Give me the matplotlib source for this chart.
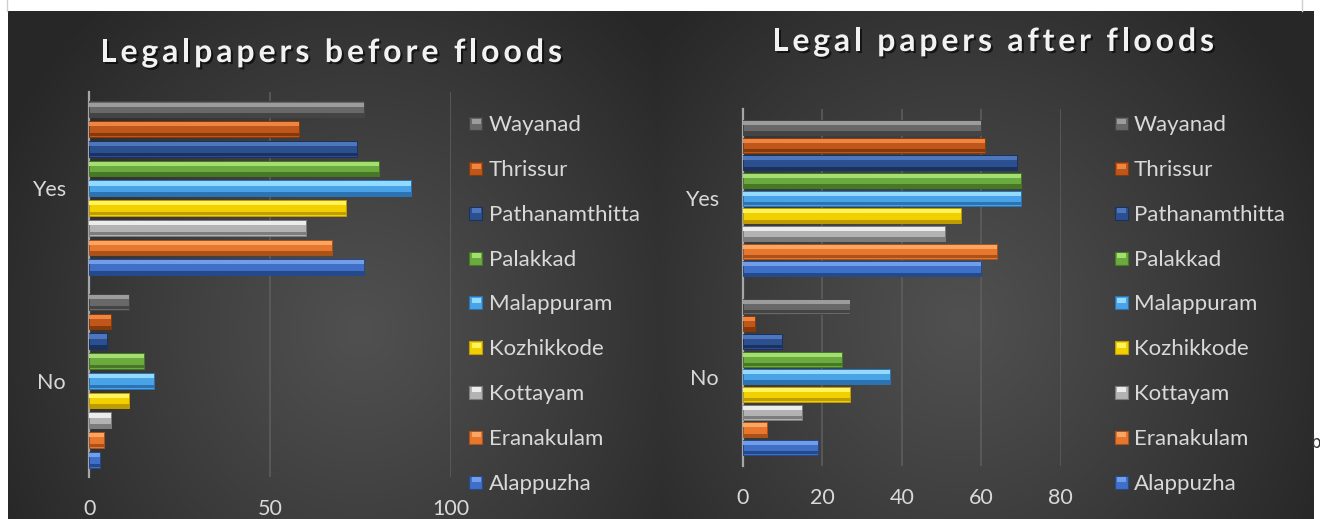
import numpy as np
import matplotlib
matplotlib.use("Agg")
import matplotlib.pyplot as plt
from matplotlib.patches import Rectangle
from matplotlib.lines import Line2D
import matplotlib.patheffects as pe

# ---------------- data ----------------
districts = ["Alappuzha", "Eranakulam", "Kottayam", "Kozhikkode", "Malappuram",
             "Palakkad", "Pathanamthitta", "Thrissur", "Wayanad"]
categories = ["No", "Yes"]
before_yes = [76, 67, 60, 71, 89, 80, 74, 58, 76]
before_no = [3, 4, 6, 11, 18, 15, 5, 6, 11]
after_yes = [60, 64, 51, 55, 70, 70, 69, 61, 60]
after_no = [19, 6, 15, 27, 37, 25, 10, 3, 27]
before_ticks = [0, 50, 100]
after_ticks = [0, 20, 40, 60, 80]
title_before = "Legalpapers before floods"
title_after = "Legal papers after floods"

# ---------------- style ----------------
base_colors = ["#3f6fc6", "#e8762d", "#b3b3b3", "#f2d000", "#4aa3e6",
               "#6aaa3e", "#2b4f8f", "#bf561a", "#686868"]
light_colors = ["#729de8", "#f9a563", "#ececec", "#fff45e", "#92dbff",
                "#a2de70", "#4d76bd", "#ef8543", "#9c9c9c"]
dark_colors = ["#244a8c", "#a9521a", "#7d7d7d", "#bf9c00", "#2c73b3",
               "#467826", "#1a3260", "#863a0c", "#444444"]

FONT = "Lato"
TXT = "#d9d9d9"
W, H = 1320, 519

fig = plt.figure(figsize=(W / 100, H / 100), dpi=100)
fig.patch.set_facecolor("white")


def fx(px):
    return px / W


def fy(py):
    return 1 - py / H


def rect(l, t, r, b):
    return [fx(l), fy(b), fx(r) - fx(l), fy(t) - fy(b)]


def gradient_panel(l, t, r, b, cx, cy):
    ax = fig.add_axes(rect(l, t, r, b), zorder=0)
    w, h = int(r - l), int(b - t)
    X, Y = np.meshgrid(np.arange(w), np.arange(h))
    d = np.sqrt(((X - (cx - l)) / (w * 0.62)) ** 2 + ((Y - (cy - t)) / (h * 0.85)) ** 2)
    d = np.clip(d, 0, 1) ** 1.1
    c0 = np.array([0x50, 0x50, 0x50]) / 255
    c1 = np.array([0x27, 0x27, 0x27]) / 255
    img = c0 + (c1 - c0) * d[..., None]
    ax.imshow(img, aspect="auto", extent=[0, 1, 0, 1], interpolation="bilinear")
    ax.set_axis_off()


gradient_panel(8, 11, 660, 519, 360, 330)
gradient_panel(660, 11, 1314, 519, 960, 320)

# thin frame lines at the top
fig.add_artist(Line2D([fx(7), fx(7)], [fy(0), fy(11)], color="#cfcfcf", lw=1))
fig.add_artist(Line2D([fx(1302), fx(1302)], [fy(0), fy(11)], color="#cfcfcf", lw=1))


def draw_chart(ax, yes, no, xmax, ticks, slot, bh, xpad, ypad):
    ax.set_facecolor("none")
    y = np.arange(len(categories))
    n = len(districts)
    for i in range(n):
        vals = [no[i], yes[i]]
        pos = y + (i - (n - 1) / 2) * slot
        ax.barh(pos, vals, height=bh, color=base_colors[i], edgecolor=dark_colors[i],
                linewidth=0.7, zorder=3)
        ax.barh(pos + bh * 0.30, vals, height=bh * 0.26, color=light_colors[i],
                linewidth=0, zorder=4)
        ax.barh(pos - bh * 0.36, vals, height=bh * 0.22, color=dark_colors[i],
                linewidth=0, zorder=4)
    ax.set_xlim(0, xmax)
    ax.set_ylim(-0.5, len(categories) - 0.5)
    ax.set_xticks(ticks)
    ax.set_yticks(y, categories)
    ax.grid(axis="x", color="#5f5f5f", lw=1.1, zorder=0)
    ax.set_axisbelow(True)
    for s in ["top", "right", "bottom"]:
        ax.spines[s].set_visible(False)
    ax.spines["left"].set_color("#a6a6a6")
    ax.spines["left"].set_linewidth(1.6)
    ax.tick_params(length=0, labelcolor=TXT, labelsize=15.5)
    ax.tick_params(axis="x", pad=xpad)
    ax.tick_params(axis="y", pad=ypad)
    for lab in ax.get_xticklabels() + ax.get_yticklabels():
        lab.set_fontfamily(FONT)


ax1 = fig.add_axes(rect(89.3, 92, 451, 477), zorder=1)
draw_chart(ax1, before_yes, before_no, 100, before_ticks, 0.1025, 0.082, 16, 17)

ax2 = fig.add_axes(rect(742.7, 109, 1060.7, 466), zorder=1)
draw_chart(ax2, after_yes, after_no, 80, after_ticks, 0.099, 0.084, 16, 17)


# ---------------- legends ----------------
def legend(mx, tx):
    for k, i in enumerate(reversed(range(len(districts)))):
        yc = 123.7 + 44.8 * k
        fig.add_artist(Rectangle((fx(mx), fy(yc + 6.5)), 13 / W, 13 / H,
                                 facecolor=base_colors[i], edgecolor=dark_colors[i],
                                 lw=0.8, transform=fig.transFigure))
        fig.add_artist(Rectangle((fx(mx + 2), fy(yc)), 9 / W, 5 / H,
                                 facecolor=light_colors[i], lw=0,
                                 transform=fig.transFigure))
        fig.text(fx(tx), fy(yc + 7.5), districts[i], ha="left", va="baseline",
                 color=TXT, fontsize=16, family=FONT)


legend(469.5, 489)
legend(1114.5, 1134)

# ---------------- titles with letter spacing ----------------
renderer = fig.canvas.get_renderer()


def text_width(s, **kw):
    t = fig.text(0, 0, s, **kw)
    w = t.get_window_extent(renderer).width
    t.remove()
    return w


def spaced_title(s, cx, baseline, target_w, **kw):
    ref = text_width("I", **kw)
    natural = text_width(s, **kw)
    gap = (target_w - natural) / (len(s) - 1)
    x0 = cx - target_w / 2
    for i, c in enumerate(s):
        if c == " ":
            continue
        off = 0 if i == 0 else text_width(s[:i] + "I", **kw) - ref
        fig.text(fx(x0 + off + i * gap), fy(baseline), c, ha="left", va="baseline",
                 path_effects=[pe.withSimplePatchShadow(offset=(1.5, -1.5),
                                                        shadow_rgbFace="black",
                                                        alpha=0.6)], **kw)


title_kw = dict(fontsize=23, family=FONT, fontweight="bold", color="#f2f2f2")
spaced_title(title_before, 331, 62, 462, **title_kw)
spaced_title(title_after, 993, 51, 442, **title_kw)

fig.text(fx(1311), fy(443), "b", ha="left", va="center", fontsize=12, color="#333333",
         family="DejaVu Sans")

fig.savefig("out.png", dpi=100, facecolor=fig.get_facecolor())
